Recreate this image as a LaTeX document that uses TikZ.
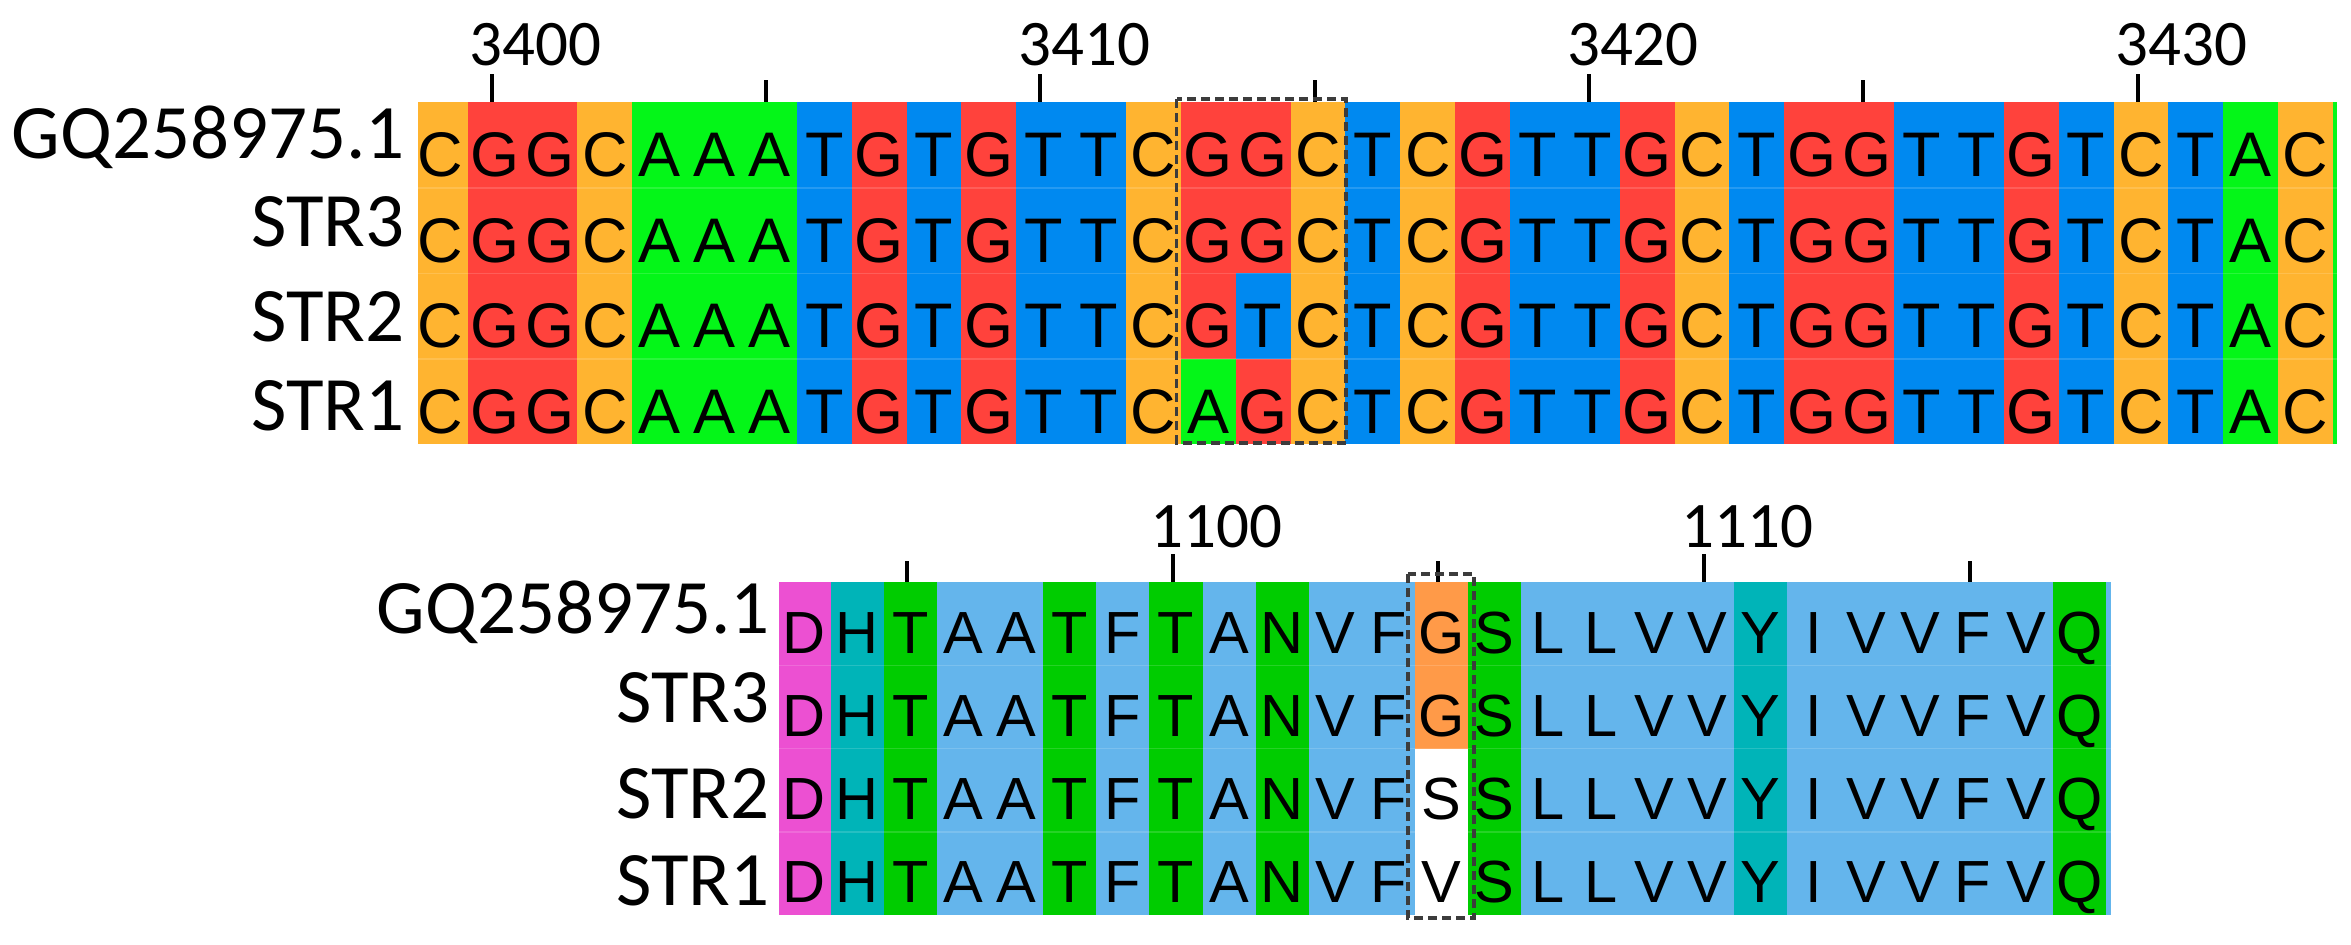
\documentclass[tikz,border=0pt]{standalone}
\usepackage{fontspec}
\setmainfont{Liberation Sans}
\newfontfamily\lblfont{Carlito}
\newfontfamily\seqfont{Liberation Sans}
% nucleotide colours
\definecolor{ntA}{RGB}{4,246,24}
\definecolor{ntC}{RGB}{255,180,48}
\definecolor{ntG}{RGB}{255,66,60}
\definecolor{ntT}{RGB}{0,137,240}
% amino acid colours
\definecolor{aaD}{RGB}{236,80,210}
\definecolor{aaH}{RGB}{0,180,184}
\definecolor{aaT}{RGB}{0,204,0}
\definecolor{aaA}{RGB}{100,181,236}
\definecolor{aaG}{RGB}{255,154,72}
\colorlet{aaF}{aaA}\colorlet{aaV}{aaA}\colorlet{aaL}{aaA}\colorlet{aaI}{aaA}
\colorlet{aaN}{aaT}\colorlet{aaS}{aaT}\colorlet{aaQ}{aaT}
\colorlet{aaY}{aaH}
\colorlet{aas}{white}\colorlet{aav}{white}
\definecolor{boxgray}{RGB}{60,60,60}
\begin{document}
\begin{tikzpicture}[x=1pt,y=-1pt,
  toplet/.style={anchor=base, inner sep=0pt, font=\seqfont\fontsize{63}{63}\selectfont},
  botlet/.style={anchor=base, inner sep=0pt, font=\seqfont\fontsize{59.5}{60}\selectfont},
  rowlbl/.style={anchor=base east, inner sep=0pt, font=\lblfont\fontsize{77}{77}\selectfont},
  numlbl/.style={anchor=base, inner sep=0pt, font=\lblfont\fontsize{65}{65}\selectfont},
  tickline/.style={line width=4pt, black},
  sepline/.style={white, opacity=0.15, line width=1.5pt},
  selbox/.style={boxgray, line width=3.5pt, dash pattern=on 9pt off 5pt}]
\useasboundingbox (0,0) rectangle (2351,945);

% ---------------- top alignment (nucleotides) ----------------
\foreach \row [count=\r from 0] in {
 {C,G,G,C,A,A,A,T,G,T,G,T,T,C,G,G,C,T,C,G,T,T,G,C,T,G,G,T,T,G,T,C,T,A,C},
 {C,G,G,C,A,A,A,T,G,T,G,T,T,C,G,G,C,T,C,G,T,T,G,C,T,G,G,T,T,G,T,C,T,A,C},
 {C,G,G,C,A,A,A,T,G,T,G,T,T,C,G,T,C,T,C,G,T,T,G,C,T,G,G,T,T,G,T,C,T,A,C},
 {C,G,G,C,A,A,A,T,G,T,G,T,T,C,A,G,C,T,C,G,T,T,G,C,T,G,G,T,T,G,T,C,T,A,C}}{
  \pgfmathsetmacro\yt{102.3+\r*85.5}
  \pgfmathsetmacro\yb{\yt+85.5}
  \pgfmathsetmacro\ybase{\yt+74.4}
  \foreach \ch [count=\i from 0] in \row {
    \pgfmathsetmacro\xl{max(417.7,467.7+(\i-1)*54.86)}
    \pgfmathsetmacro\xr{467.7+\i*54.86}
    \pgfmathsetmacro\xc{467.7+(\i-0.5)*54.86}
    \fill[nt\ch] (\xl,\yt) rectangle (\xr+0.6,\yb);
    \node[toplet] (top-\r-\i) at (\xc,\ybase) {\ch};
  }
}
\fill[ntA] (2333.3,102.3) rectangle (2336.8,444.3);
\foreach \y in {187.8,273.3,358.8}{\draw[sepline] (417.7,\y) -- (2336.8,\y);}

% top ruler
\foreach \c/\lab in {1/3400,11/3410,21/3420,31/3430}{
  \pgfmathsetmacro\xt{467.7+(\c-0.5)*54.86-3.4}
  \coordinate (tkt\c) at (\xt,74);
  \draw[tickline] (tkt\c) -- (\xt,102.3);
  \node[numlbl] (lab\lab) at (\xt+44,65) {\lab};
}
\foreach \c in {6,16,26}{
  \pgfmathsetmacro\xt{467.7+(\c-0.5)*54.86-3.4}
  \coordinate (tkt\c) at (\xt,80);
  \draw[tickline] (tkt\c) -- (\xt,102.3);
}

% top row labels
\node[rowlbl] (ltgq) at (405,158.3) {GQ258975.1};
\node[rowlbl] (lts3) at (405,246.7) {STR3};
\node[rowlbl] (lts2) at (405,341.7) {STR2};
\node[rowlbl] (lts1) at (405,430) {STR1};

% top selection box
\draw[selbox] (1176.5,99) rectangle (1346,443);

% ---------------- bottom alignment (amino acids) ----------------
\foreach \row [count=\r from 0] in {
 {D,H,T,A,A,T,F,T,A,N,V,F,G,S,L,L,V,V,Y,I,V,V,F,V,Q},
 {D,H,T,A,A,T,F,T,A,N,V,F,G,S,L,L,V,V,Y,I,V,V,F,V,Q},
 {D,H,T,A,A,T,F,T,A,N,V,F,s,S,L,L,V,V,Y,I,V,V,F,V,Q},
 {D,H,T,A,A,T,F,T,A,N,V,F,v,S,L,L,V,V,Y,I,V,V,F,V,Q}}{
  \pgfmathsetmacro\yt{582.3+\r*83.2}
  \pgfmathsetmacro\yb{\yt+83.2}
  \pgfmathsetmacro\ybase{\yt+71}
  \foreach \ch [count=\i from 0] in \row {
    \pgfmathsetmacro\xl{max(779.3,830.7+(\i-1)*53.13)}
    \pgfmathsetmacro\xr{830.7+\i*53.13}
    \pgfmathsetmacro\xc{830.7+(\i-0.5)*53.13}
    \fill[aa\ch] (\xl,\yt) rectangle (\xr+0.6,\yb);
    \node[botlet] (bot-\r-\i) at (\xc,\ybase) {\uppercase\expandafter{\ch}};
  }
}
\fill[aaA] (2105.8,582.3) rectangle (2111,915.1);
\foreach \y in {665.5,748.7,831.9}{\draw[sepline] (779.3,\y) -- (2111,\y);}

% bottom ruler
\foreach \c/\lab in {7/1100,17/1110}{
  \pgfmathsetmacro\xt{830.7+(\c-0.5)*53.13-3.5}
  \coordinate (tkb\c) at (\xt,554);
  \draw[tickline] (tkb\c) -- (\xt,582.3);
  \node[numlbl] (lab\lab) at (\xt+44,547) {\lab};
}
\foreach \c in {2,12,22}{
  \pgfmathsetmacro\xt{830.7+(\c-0.5)*53.13-3.5}
  \coordinate (tkb\c) at (\xt,561);
  \draw[tickline] (tkb\c) -- (\xt,582.3);
}

% bottom row labels
\node[rowlbl] (lbgq) at (770,633.3) {GQ258975.1};
\node[rowlbl] (lbs3) at (770,722.7) {STR3};
\node[rowlbl] (lbs2) at (770,818.3) {STR2};
\node[rowlbl] (lbs1) at (770,905) {STR1};

% bottom selection box
\draw[selbox] (1408,574) rectangle (1474,918);
\end{tikzpicture}
\end{document}
